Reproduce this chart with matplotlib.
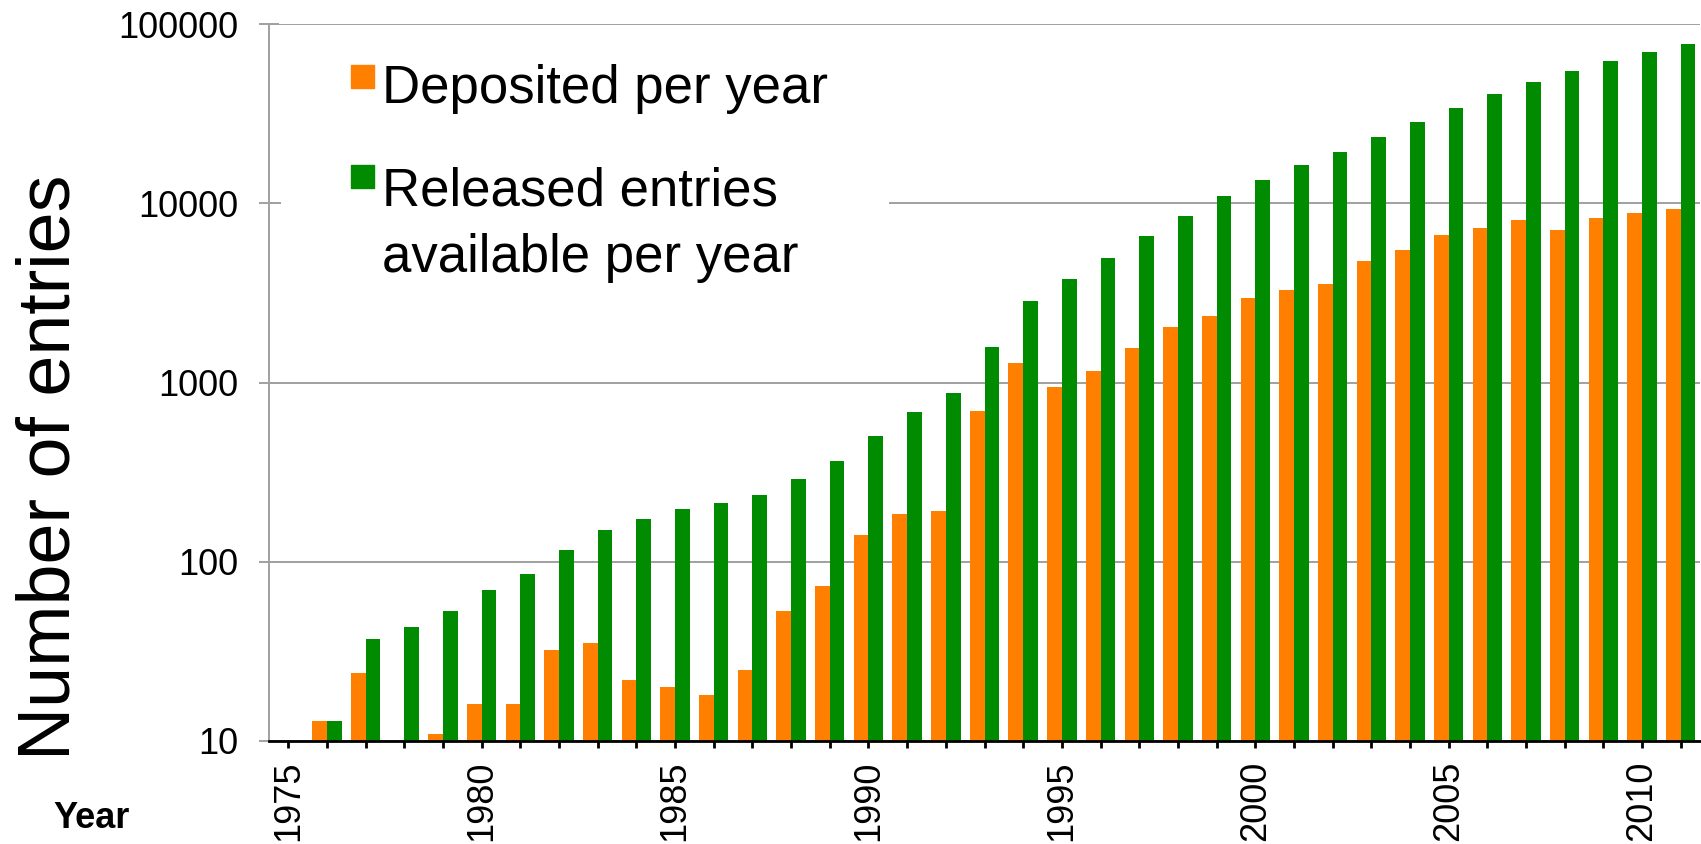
import matplotlib
matplotlib.use('Agg')
import matplotlib.pyplot as plt
import matplotlib.patches as mpatches
import numpy as np
from matplotlib.legend_handler import HandlerPatch
from matplotlib.ticker import FixedLocator, NullLocator

plt.rcParams['font.family'] = ['Liberation Sans', 'DejaVu Sans']

years = np.arange(1975, 2012)
deposited = [0, 13, 24, 9, 11, 16, 16, 32, 35, 22,
             20, 18, 25, 53, 73, 141, 185, 191, 692, 1288,
             939, 1162, 1552, 2033, 2345, 2945, 3264, 3524, 4755, 5454,
             6610, 7230, 8050, 7080, 8260, 8850, 9270]
released = [0, 13, 37, 43, 53, 70, 85, 116, 151, 174,
            197, 212, 236, 289, 363, 500, 684, 876, 1572, 2850,
            3770, 4920, 6530, 8530, 10910, 13510, 16310, 19360, 23380, 28580,
            33900, 40450, 47340, 54330, 62000, 69350, 77830]
year_labels = [str(y) if y % 5 == 0 else '' for y in years]
y_ticks = [10, 100, 1000, 10000, 100000]
y_labels = ['10', '100', '1000', '10000', '100000']
series_names = ['Deposited per year', 'Released entries\navailable per year']

orange = '#ff7f00'
green = '#008b00'

W, H = 1701, 844
fig = plt.figure(figsize=(W / 100, H / 100), dpi=100)
ax = fig.add_axes([269 / W, 1 - 741 / H, 1431 / W, (741 - 24) / H])

bw = 0.38
ax.bar(years - bw / 2, deposited, bw, color=orange, zorder=2)
ax.bar(years + bw / 2, released, bw, color=green, zorder=2)

ax.set_yscale('log')
ax.set_ylim(10, 100000)
ax.set_xlim(1974.5, 2011.5)

ax.yaxis.set_major_locator(FixedLocator(y_ticks))
ax.yaxis.set_minor_locator(NullLocator())
ax.set_yticklabels(y_labels)
ax.set_xticks(years)
ax.set_xticklabels(year_labels, rotation=90)

ax.yaxis.grid(True, color='#a0a0a0', lw=1.4)
ax.set_axisbelow(True)
for s in ['top', 'right']:
    ax.spines[s].set_visible(False)
ax.spines['left'].set_color('#a0a0a0')
ax.spines['left'].set_linewidth(1.4)
ax.spines['bottom'].set_color('black')
ax.spines['bottom'].set_linewidth(2.0)
ax.spines['bottom'].set_zorder(3)

ax.tick_params(axis='y', direction='inout', length=14.4, width=1.4,
               color='#a0a0a0', labelsize=26, pad=15)
ax.tick_params(axis='x', direction='out', length=5, width=2,
               color='black', labelsize=26, pad=9)


def square_at(offset):
    # legend square lifted so it sits beside the first line of the label
    def make(legend, orig_handle, xdescent, ydescent, width, height, fontsize):
        side = 0.44 * fontsize
        y0 = (0.28 + offset) * fontsize
        return mpatches.Rectangle((width - side, y0), side, side)
    return HandlerPatch(patch_func=make)


h_dep = mpatches.Patch(color=orange)
h_rel = mpatches.Patch(color=green)
leg = ax.legend([h_dep, h_rel], series_names,
                handler_map={h_dep: square_at(0), h_rel: square_at(0.78)},
                loc='upper left', mode='expand',
                bbox_to_anchor=(281 / W, 0.5, (889 - 281) / W, 0.9368 - 0.5),
                bbox_transform=fig.transFigure,
                fontsize=38, frameon=True, fancybox=False, framealpha=1,
                facecolor='white', edgecolor='none', borderpad=0.2,
                handlelength=1.563, handletextpad=0.15, labelspacing=1.0,
                borderaxespad=0)
for t in leg.get_texts():
    t.set_linespacing(1.42)

fig.text(50 / W, 0.446, 'Number of entries', rotation=90, fontsize=53,
         ha='center', va='center')
fig.text(91.7 / W, 1 - 828 / H, 'Year', fontsize=26, fontweight='bold',
         ha='center', va='baseline')

fig.savefig('out.png', dpi=100)
